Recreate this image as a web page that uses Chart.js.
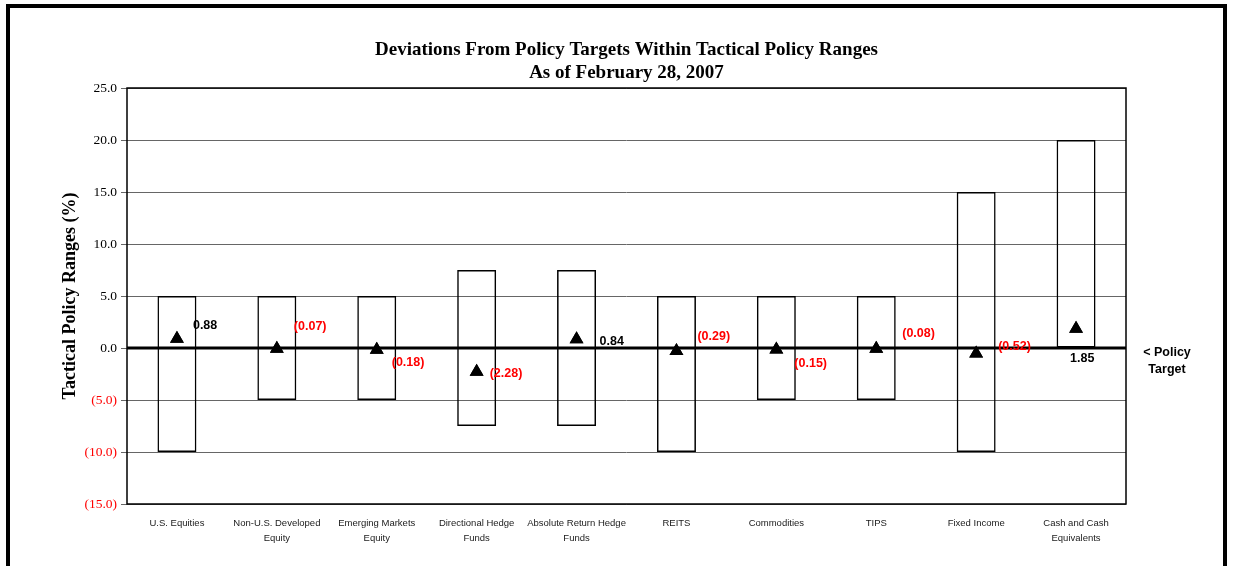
<!DOCTYPE html>
<html>
<head>
<meta charset="utf-8">
<script src="https://cdn.jsdelivr.net/npm/chart.js@4/dist/chart.umd.min.js"></script>
<style>
  html, body { margin: 0; padding: 0; background: #fff; }
  body { width: 1239px; height: 566px; position: relative; overflow: hidden; }
  #frame { position: absolute; left: 6px; top: 4px; width: 1221px; height: 640px; border: 4px solid #000; box-sizing: border-box; }
  #wrap { position: absolute; left: 0; top: 0; width: 1239px; height: 566px; }
</style>
</head>
<body>
<div id="frame"></div>
<div id="wrap"><canvas id="c" width="1239" height="566"></canvas></div>
<script>
// ---- data ----
const categories = [
  ["U.S. Equities"],
  ["Non-U.S. Developed", "Equity"],
  ["Emerging Markets", "Equity"],
  ["Directional Hedge", "Funds"],
  ["Absolute Return Hedge", "Funds"],
  ["REITS"],
  ["Commodities"],
  ["TIPS"],
  ["Fixed Income"],
  ["Cash and Cash", "Equivalents"]
];
const rangeLow  = [-10, -5, -5, -7.5, -7.5, -10, -5, -5, -10, 0];
const rangeHigh = [5, 5, 5, 7.5, 7.5, 5, 5, 5, 15, 20];
const deviations = [0.88, -0.07, -0.18, -2.28, 0.84, -0.29, -0.15, -0.08, -0.52, 1.85];
const yTicks = { min: -15, max: 25, step: 5 };
const titleLines = ["Deviations From Policy Targets Within Tactical Policy Ranges", "As of February 28, 2007"];

// label placement (pixel offsets from the marker), styling only
const labelOffsets = [[16,-13],[17,-22],[15,13],[13,2],[23,2],[21,-14],[18,14],[26,-15],[22,-7],[-6,30]];

const fmt = v => v < 0 ? "(" + Math.abs(v).toFixed(2) + ")" : v.toFixed(2);
const fmtTick = v => v < 0 ? "(" + Math.abs(v).toFixed(1) + ")" : v.toFixed(1);

const extras = {
  id: 'extras',
  afterDatasetsDraw(chart) {
    const { ctx, chartArea: a, scales: { x, y } } = chart;
    ctx.save();
    // zero line
    const y0 = y.getPixelForValue(0);
    ctx.strokeStyle = '#000';
    ctx.lineWidth = 3;
    ctx.beginPath(); ctx.moveTo(a.left, y0); ctx.lineTo(a.right, y0); ctx.stroke();
    // plot border
    ctx.lineWidth = 1.5;
    ctx.strokeRect(a.left, a.top, a.right - a.left, a.bottom - a.top);
    // redraw markers on top of zero line
    const meta = chart.getDatasetMeta(1);
    meta.data.forEach(pt => pt.draw(ctx, a));
    // data labels
    ctx.font = 'bold 12.5px "Liberation Sans", Arial, sans-serif';
    ctx.textBaseline = 'middle';
    ctx.textAlign = 'left';
    deviations.forEach((v, i) => {
      const px = x.getPixelForValue(i) + labelOffsets[i][0];
      const py = y.getPixelForValue(v) + labelOffsets[i][1];
      ctx.fillStyle = v < 0 ? '#ff0000' : '#000';
      ctx.fillText(fmt(v), px, py);
    });
    // policy target note
    ctx.fillStyle = '#000';
    ctx.textAlign = 'center';
    ctx.fillText('< Policy', a.right + 41, y0 + 5);
    ctx.fillText('Target', a.right + 41, y0 + 22);
    // title
    ctx.font = 'bold 19px "Liberation Serif", "Times New Roman", serif';
    const cx = (a.left + a.right) / 2;
    ctx.fillText(titleLines[0], cx, 50);
    ctx.fillText(titleLines[1], cx, 73);
    ctx.restore();
  }
};

new Chart(document.getElementById('c'), {
  data: {
    labels: categories,
    datasets: [
      {
        type: 'bar',
        data: rangeLow.map((lo, i) => [lo, rangeHigh[i]]),
        backgroundColor: 'rgba(255,255,255,0)',
        borderColor: '#000',
        borderWidth: 1.5,
        borderSkipped: false,
        barPercentage: 0.39,
        categoryPercentage: 1.0,
        order: 2
      },
      {
        type: 'line',
        data: deviations,
        showLine: false,
        pointStyle: 'triangle',
        pointRadius: 8,
        pointBackgroundColor: '#000',
        pointBorderColor: '#000',
        pointBorderWidth: 0,
        order: 1
      }
    ]
  },
  options: {
    responsive: false,
    animation: false,
    devicePixelRatio: 1,
    layout: { padding: { left: 58, right: 113, top: 88, bottom: 12 } },
    plugins: { legend: { display: false }, tooltip: { enabled: false }, title: { display: false } },
    scales: {
      x: {
        grid: { display: false, drawTicks: false },
        border: { display: false },
        ticks: {
          font: { family: '"Liberation Sans", Arial, sans-serif', size: 9.5, lineHeight: 1.6 },
          color: '#1a1a1a',
          padding: 12,
          maxRotation: 0,
          autoSkip: false
        },
        afterFit(s) { s.height = 50; }
      },
      y: {
        min: yTicks.min, max: yTicks.max,
        ticks: {
          stepSize: yTicks.step,
          font: { family: '"Liberation Serif", "Times New Roman", serif', size: 13.5 },
          color: ctx => ctx.tick.value < 0 ? '#ff0000' : '#000',
          padding: 4,
          callback: v => fmtTick(v)
        },
        grid: { color: '#666', lineWidth: 1, tickLength: 6 },
        border: { display: false },
        title: {
          display: true,
          text: 'Tactical Policy Ranges (%)',
          font: { family: '"Liberation Serif", "Times New Roman", serif', size: 18, weight: 'bold' },
          color: '#000',
          padding: { top: 2, bottom: 0 }
        },
        afterFit(s) { s.width = 69; }
      }
    }
  },
  plugins: [extras]
});
</script>
</body>
</html>
